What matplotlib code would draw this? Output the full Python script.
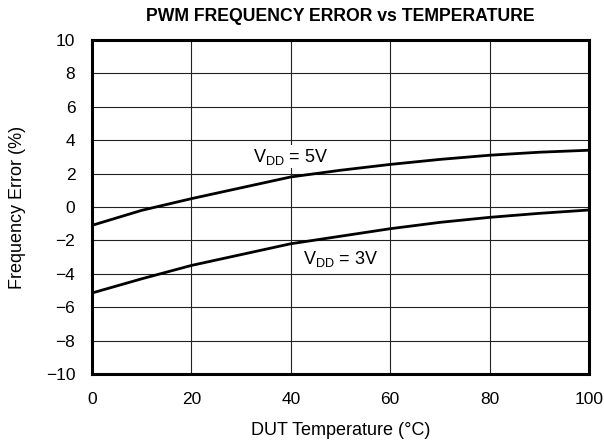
import matplotlib
matplotlib.use("Agg")
import matplotlib.pyplot as plt

plt.rcParams['font.family'] = ['Liberation Sans', 'DejaVu Sans']

temp = [0, 10, 20, 30, 40, 50, 60, 70, 80, 90, 100]
err_5v = [-1.1, -0.2, 0.5, 1.15, 1.8, 2.2, 2.55, 2.85, 3.1, 3.28, 3.4]
err_3v = [-5.15, -4.3, -3.5, -2.85, -2.2, -1.75, -1.3, -0.92, -0.62, -0.38, -0.18]

yticks = [-10, -8, -6, -4, -2, 0, 2, 4, 6, 8, 10]
xticks = [0, 20, 40, 60, 80, 100]

fig = plt.figure(figsize=(6.04, 4.47), dpi=100)
ax = fig.add_axes([92/604, 73/447, 497/604, 334/447])

ax.plot(temp, err_5v, color='black', lw=2)
ax.plot(temp, err_3v, color='black', lw=2)

ax.set_xlim(0, 100)
ax.set_ylim(-10, 10)
ax.set_xticks(xticks)
ax.set_yticks(yticks)
ax.set_yticklabels([str(v).replace('-', '\u2212') for v in yticks])
ax.grid(True, color='#222222', lw=0.8)
ax.tick_params(length=0, labelsize=12.5, pad=12)
ax.tick_params(axis='x', pad=13)
for s in ax.spines.values():
    s.set_linewidth(2.2)

# curve labels sit on white boxes so the grid breaks behind them
ax.text(32.4, 2.72, r'V$_{\mathregular{DD}}$ = 5V', fontsize=13, va='baseline', ha='left',
        bbox=dict(facecolor='white', edgecolor='none', pad=1))
ax.text(42.5, -3.43, r'V$_{\mathregular{DD}}$ = 3V', fontsize=13, va='baseline', ha='left',
        bbox=dict(facecolor='white', edgecolor='none', pad=1))

ax.set_xlabel('DUT Temperature (°C)', fontsize=13, labelpad=11)
ax.set_ylabel('Frequency Error (%)', fontsize=13, labelpad=14)
ax.set_title('PWM FREQUENCY ERROR vs TEMPERATURE', fontsize=12.7, fontweight='bold', pad=14)

fig.savefig('out.png', dpi=100)
